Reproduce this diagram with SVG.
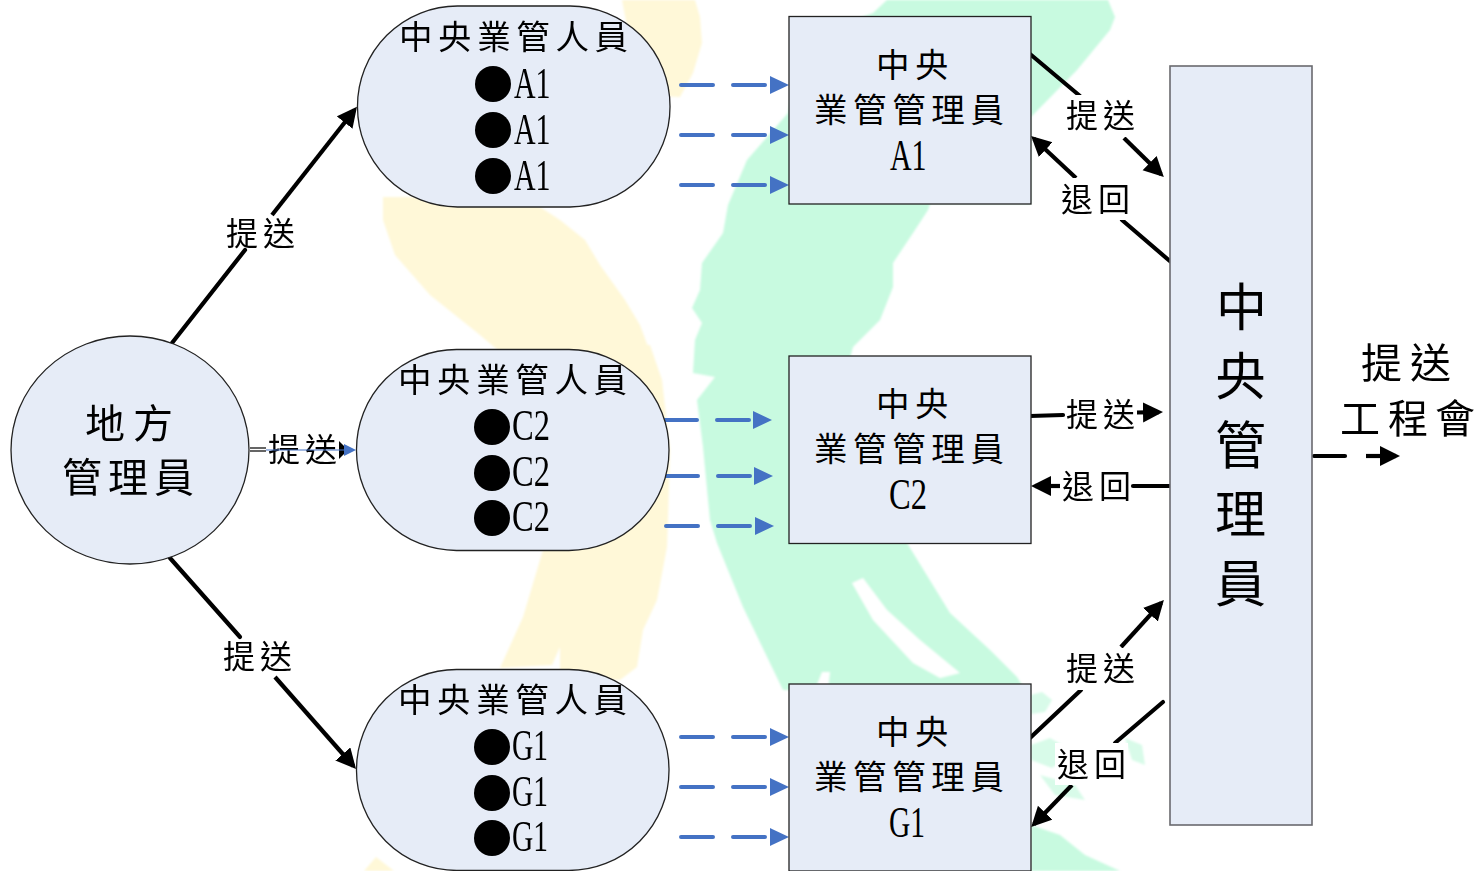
<svg xmlns="http://www.w3.org/2000/svg" width="1478" height="871" viewBox="0 0 1478 871">
<style>
text{font-family:"Noto Sans CJK TC","Noto Sans CJK SC",serif;fill:#000}
.f{fill:#e6ecf7;stroke:#222;stroke-width:1.3}
.b{fill:#e6ecf7;stroke:#6a6a6e;stroke-width:1.6}
.t{font-size:33.500px;letter-spacing:5.600px}
.l{font-size:32px;letter-spacing:5px}
.n{font-family:"Liberation Serif",serif;font-size:44px}
.k{stroke:#000;stroke-width:4.200;fill:none;marker-end:url(#ka)}
.k0{stroke:#000;stroke-width:4.200;fill:none;stroke-linecap:round}
.d{stroke:#4472c4;stroke-width:4;fill:none;stroke-linecap:round}
.w{fill:#fff}
.bt{fill:#4472c4}
.g{fill:#c8fae0}
.y{fill:#fff8d8}
</style>
<defs>
<marker id="ka" markerUnits="userSpaceOnUse" markerWidth="22" markerHeight="22" refX="16" refY="10" orient="auto"><path d="M0 0L20 10L0 20z" fill="#000"/></marker>
<filter id="soft"><feGaussianBlur stdDeviation="1.300"/></filter>
</defs>
<rect width="1478" height="871" fill="#fff"/>
<g id="background" filter="url(#soft)">
<path class="y" d="M622 0L695 0L700 17L702 43L693 73L680 97L640 95Z"/>
<path class="y" d="M383 197L383 220L395 255L430 295L480 335L500 352L650 352L640 325L625 300L600 265L585 240L560 220L540 207L500 197Z"/>
<path class="y" d="M500 350L650 345L662 380L670 450L668 520L667 547L657 600L643 630L637 667L620 680L560 680L560 647L552 665L500 668L523 617L543 550L560 500Z"/>
<path class="y" d="M364 871L376 857L394 871Z"/>
<path class="g" d="M887 0L1108 0L1115 17L1110 30L1077 70L1031 117L1031 204L930 204L928 210L913 233L893 263L893 287L880 320L853 347L850 358L907 543L950 613L990 650L1017 677L1025 690L783 690L743 607L717 543L710 520L703 447L697 400L715 377L693 373L695 340L702 323L692 308L700 290L702 263L723 233L728 205L747 160L788 113L800 40L873 13Z"/>
<path class="g" d="M850 356L790 356L790 543L907 543Z"/>
<path class="w" d="M852 583L863 578L887 610L920 640L960 673L940 678L913 663L873 620Z"/>
<path class="w" d="M815 690L822 672L830 672L828 690Z"/>
<g opacity=".7">
<path class="g" d="M1031 695L1042 692L1052 700L1045 712L1031 714Z"/>
<path class="g" d="M1031 745L1050 738L1075 752L1052 768L1031 760Z"/>
<path class="g" d="M1040 775L1075 785L1085 800L1055 795Z"/>
<path class="g" d="M1125 738L1142 745L1145 765L1132 760Z"/>
</g>
<path class="g" d="M1031 825L1060 835L1085 855L1120 871L1031 871Z"/>
</g>
<g id="connectors">
<path class="k0" d="M172 343L245 250"/>
<path class="k" d="M272 215L354.500 110"/>
<path class="k0" d="M170 558L240 637"/>
<path class="k" d="M275 677L353.400 766"/>
<path d="M250 448H266M250 451H266" stroke="#333" stroke-width="1.600" fill="none"/>
<path class="k0" d="M1030 54L1080 96"/>
<path class="k" d="M1124 138L1161 174.300"/>
<path class="k" d="M1076 178L1034 138.700"/>
<path class="k0" d="M1122 220L1171 262"/>
<path class="k0" d="M1030 416L1063 415"/>
<path class="k" d="M1137 412.500L1159 412.100"/>
<path class="k" d="M1060 486L1035 486"/>
<path class="k0" d="M1133 486L1171 486"/>
<path class="k0" d="M1030 738L1081 690"/>
<path class="k" d="M1121 647L1161.200 602.900"/>
<path class="k0" d="M1163 702L1115 743"/>
<path class="k" d="M1072 785L1034 824.200"/>
<path class="k0" d="M1314 456H1345"/>
<path class="k" d="M1366 456H1396"/>
</g>
<g id="edge-labels">
<text class="l" x="226" y="245">提送</text>
<text class="l" x="223" y="668">提送</text>
<text class="l" x="268" y="461">提送</text>
<path d="M339 441L348 450L339 459z" fill="#000"/>
<path d="M266 450H346" stroke="#4472c4" stroke-width="1.200"/>
<path class="bt" d="M344 444L356 450L344 456z"/>
<rect class="w" x="1064" y="95" width="76" height="42"/><text class="l" x="1066" y="127">提送</text>
<rect class="w" x="1059" y="178" width="73" height="42"/><text class="l" x="1061" y="211">退回</text>
<text class="l" x="1066" y="426">提送</text>
<text class="l" x="1062" y="498">退回</text>
<rect class="w" x="1064" y="648" width="76" height="42"/><text class="l" x="1066" y="680">提送</text>
<rect class="w" x="1055" y="743" width="73" height="42"/><text class="l" x="1057" y="776">退回</text>
</g>
<g id="dashes">
<g id="d-a"><path class="d" d="M681 85H713M733 85H765M681 135H713M733 135H765M681 185H713M733 185H765"/><path class="bt" d="M770 76L789 85L770 94zM770 126L789 135L770 144zM770 176L789 185L770 194z"/></g>
<g id="d-c"><path class="d" d="M665 420H697M717 420H749M665 476H698M718 476H750M666 526H698M718 526H750"/><path class="bt" d="M753 411L772 420L753 429zM754 467L773 476L754 485zM755 517L774 526L755 535z"/></g>
<g id="d-g"><path class="d" d="M681 737H713M733 737H765M681 787H713M733 787H765M681 837H713M733 837H765"/><path class="bt" d="M770 728L789 737L770 746zM770 778L789 787L770 796zM770 828L789 837L770 846z"/></g>
</g>
<g id="local">
<ellipse class="f" cx="130" cy="450" rx="119" ry="114"/>
<text x="85" y="438" font-size="40" letter-spacing="8">地方</text>
<text x="62" y="492" font-size="40" letter-spacing="6">管理員</text>
</g>
<g id="staff-a">
<rect class="f" x="357.500" y="6" width="312.500" height="201" rx="100" ry="100"/>
<text class="t" x="399" y="49">中央業管人員</text>
<circle cx="493" cy="84" r="18"/><text class="n" transform="translate(514 98) scale(.68 1)">A1</text>
<circle cx="493" cy="130" r="18"/><text class="n" transform="translate(514 144) scale(.68 1)">A1</text>
<circle cx="493" cy="176" r="18"/><text class="n" transform="translate(514 190) scale(.68 1)">A1</text>
</g>
<g id="staff-c">
<rect class="f" x="356.500" y="349.500" width="312.500" height="201" rx="100" ry="100"/>
<text class="t" x="398" y="392">中央業管人員</text>
<circle cx="492" cy="427" r="18"/><text class="n" transform="translate(512 440) scale(.74 1)">C2</text>
<circle cx="492" cy="473" r="18"/><text class="n" transform="translate(512 486) scale(.74 1)">C2</text>
<circle cx="492" cy="518" r="18"/><text class="n" transform="translate(512 531) scale(.74 1)">C2</text>
</g>
<g id="staff-g">
<rect class="f" x="356.500" y="669.500" width="312.500" height="201" rx="100" ry="100"/>
<text class="t" x="398" y="712">中央業管人員</text>
<circle cx="492" cy="747" r="18"/><text class="n" transform="translate(512 760) scale(.67 1)">G1</text>
<circle cx="492" cy="793" r="18"/><text class="n" transform="translate(512 806) scale(.67 1)">G1</text>
<circle cx="492" cy="838" r="18"/><text class="n" transform="translate(512 851) scale(.67 1)">G1</text>
</g>
<g id="mgr-a">
<rect class="f" x="789" y="16.500" width="242" height="187.500"/>
<text class="t" x="876" y="77">中央</text>
<text class="t" x="814" y="122">業管管理員</text>
<text class="n" transform="translate(890 170) scale(.68 1)">A1</text>
</g>
<g id="mgr-c">
<rect class="f" x="789" y="356" width="242" height="187.500"/>
<text class="t" x="876" y="416">中央</text>
<text class="t" x="814" y="461">業管管理員</text>
<text class="n" transform="translate(889 509) scale(.74 1)">C2</text>
</g>
<g id="mgr-g">
<rect class="f" x="789" y="684" width="242" height="187"/>
<text class="t" x="876" y="744">中央</text>
<text class="t" x="814" y="789">業管管理員</text>
<text class="n" transform="translate(889 837) scale(.67 1)">G1</text>
</g>
<g id="central">
<rect class="b" x="1170" y="66" width="142" height="759"/>
<g font-size="51"><text x="1216" y="326">中</text><text x="1215" y="395">央</text><text x="1215" y="464">管</text><text x="1215" y="533">理</text><text x="1215" y="602">員</text></g>
</g>
<g id="output">
<text x="1361" y="378" font-size="41" letter-spacing="8">提送</text>
<text x="1340 1388 1435" y="433" font-size="40">工程會</text>
</g>
</svg>
